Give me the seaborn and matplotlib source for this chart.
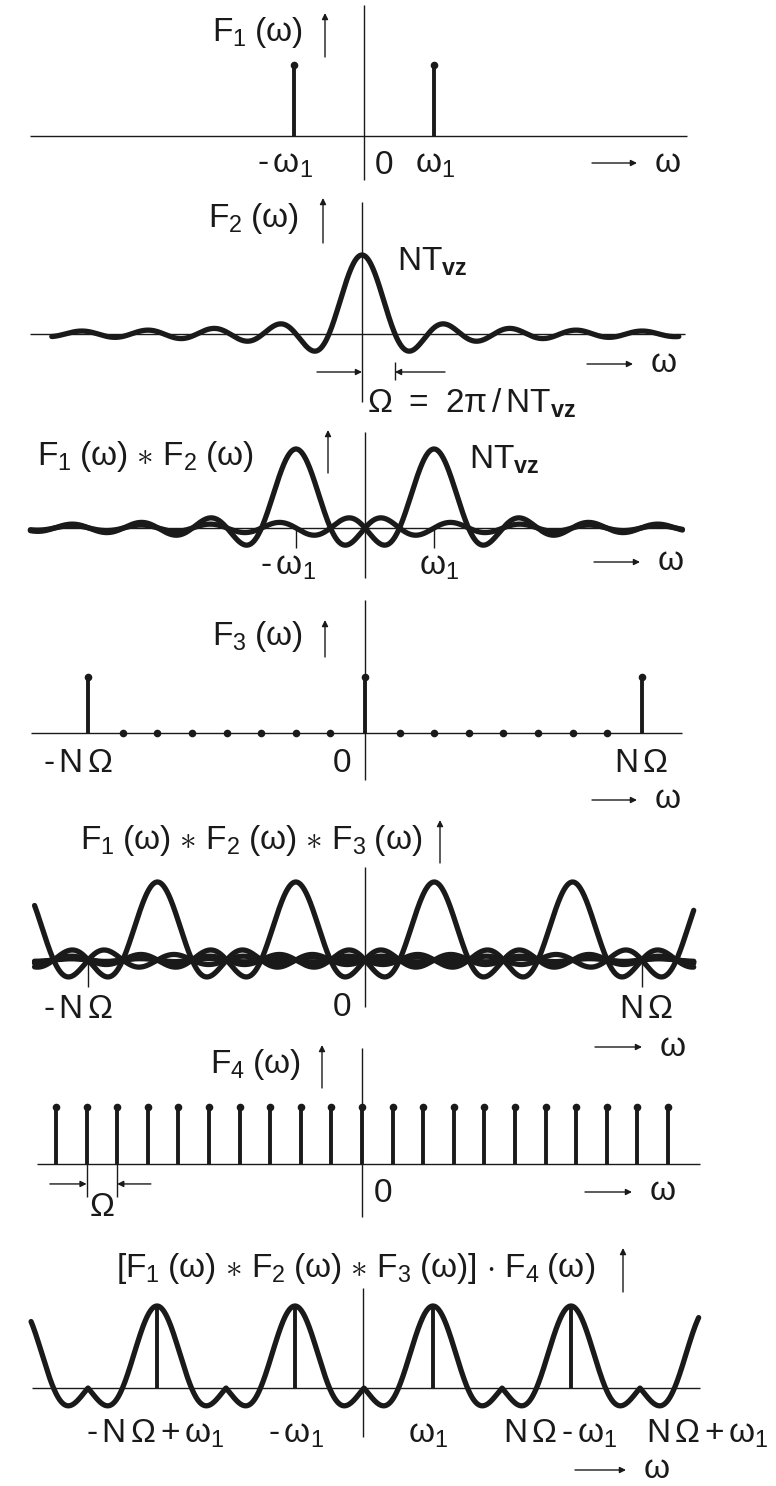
import numpy as np
import pandas as pd
import matplotlib
matplotlib.use("Agg")
import matplotlib.pyplot as plt
import seaborn as sns

sns.set_theme(style="white")
plt.rcParams['font.family'] = ['Liberation Sans', 'DejaVu Sans']
plt.rcParams['mathtext.fontset'] = 'custom'
plt.rcParams['mathtext.rm'] = 'Liberation Sans'
plt.rcParams['mathtext.it'] = 'Liberation Sans'
plt.rcParams['mathtext.bf'] = 'Liberation Sans:bold'
plt.rcParams['mathtext.default'] = 'rm'

# ---------------- data (frequency in units of Omega) ----------------
N = 8                                   # N*Omega = 8 Omega
omega1 = [-2, 2]                        # +/- omega_1 = 2 Omega
f1_pos = [-2, 2]
f1_amp = [1.0, 1.0]
f2_centers = [0]                        # sinc lobe, zeros at multiples of Omega
f12_centers = [-2, 2]                   # F1 * F2
f3_pos = [-8, -7, -6, -5, -4, -3, -2, -1, 0, 1, 2, 3, 4, 5, 6, 7, 8]
f3_amp = [1, 0, 0, 0, 0, 0, 0, 0, 1, 0, 0, 0, 0, 0, 0, 0, 1]
f123_centers = [-10, -6, -2, 2, 6, 10]
f4_pos = [-10, -9, -8, -7, -6, -5, -4, -3, -2, -1, 0, 1, 2, 3, 4, 5, 6, 7, 8, 9, 10]
f4_amp = [1] * 21
final_centers = [-10, -6, -2, 2, 6, 10]
npm_ticks = [-8, 8]                     # -N Omega, N Omega
omega_tick = [-9, -8]                   # Omega spacing marker in F4 panel

S = '$\\;$'
lbl_p1 = ['-$\\,$ω$_1$', '0', 'ω$_1$']
lbl_p3 = ['-$\\,$ω$_1$', 'ω$_1$']
lbl_p4 = ['-$\\,$N$\\,$Ω', '0', 'N$\\,$Ω']
lbl_p7 = ['-$\\,$N$\\,$Ω$\\,$+$\\,$ω$_1$', '-$\\,$ω$_1$', 'ω$_1$',
          'N$\\,$Ω$\\,$-$\\,$ω$_1$', 'N$\\,$Ω$\\,$+$\\,$ω$_1$']


def F(i):
    return 'F$_%d\\;$(ω)' % i


STAR = ' $\\ast$ '
t_f1 = F(1)
t_f2 = F(2)
t_f3 = F(3)
t_f4 = F(4)
t_f12 = F(1) + STAR + F(2)
t_f123 = F(1) + STAR + F(2) + STAR + F(3)
t_final = '[' + F(1) + STAR + F(2) + STAR + F(3) + '] $\\cdot$ ' + F(4)
t_ntvz = 'NT$_{\\mathbf{vz}}$'
t_omega = 'Ω $\\;$=$\\;$ 2π$\\,$/$\\,$NT$_{\\mathbf{vz}}$'

# ---------------- figure ----------------
W, H = 776, 1486
fig = plt.figure(figsize=(W / 100, H / 100), dpi=100)
fig.patch.set_facecolor('white')
ov = fig.add_axes([0, 0, 1, 1])
ov.set_xlim(0, W)
ov.set_ylim(H, 0)
ov.axis('off')

FS = 24
CURVE_LW = 3.8
STEM_LW = 2.8
AX_LW = 1.0


def data_ax(c, s, yb, h):
    ax = fig.add_axes([0, 0, 1, 1])
    ax.set_xlim(-c / s, (W - c) / s)
    ax.set_ylim((yb - H) / h, yb / h)
    ax.axis('off')
    ax.patch.set_alpha(0)
    return ax


def hl(x0, x1, y, lw=AX_LW):
    ov.plot([x0, x1], [y, y], color='k', lw=lw, solid_capstyle='butt')


def vl(x, y0, y1, lw=AX_LW):
    ov.plot([x, x], [y0, y1], color='k', lw=lw, solid_capstyle='butt')


def txt(x, y, s, ha='center', fs=FS):
    ov.text(x, y, s, ha=ha, va='center', fontsize=fs, color='k')


def arrow(x0, y0, x1, y1, ax=None):
    (ax or ov).annotate('', xy=(x1, y1), xytext=(x0, y0),
                        arrowprops=dict(arrowstyle='-|>', lw=1.0, color='k',
                                        mutation_scale=9, shrinkA=0, shrinkB=0))


def omega_arrow(x0, x1, y):
    arrow(x0, y, x1, y)
    txt(x1 + 31, y, 'ω')


def lobes(ax, centers, lo, hi):
    w = np.linspace(lo, hi, 1500)
    df = pd.concat([pd.DataFrame({'w': w, 'v': np.sinc(w - c), 'lobe': i})
                    for i, c in enumerate(centers)])
    sns.lineplot(data=df, x='w', y='v', units='lobe', estimator=None,
                 color='k', lw=CURVE_LW, ax=ax, legend=False)


def stems(ax, pos, amp, lw=STEM_LW, dots=True):
    pos = np.asarray(pos, float)
    amp = np.asarray(amp, float)
    ax.vlines(pos, 0, amp, color='k', lw=lw)
    if dots:
        sns.scatterplot(x=pos, y=amp, color='k', s=30, linewidth=0, ax=ax,
                        zorder=5, legend=False)


# ---------- panel 1 : F1 ----------
a1 = data_ax(364, 35, 136, 71)
stems(a1, f1_pos, f1_amp)
vl(364, 5, 180)
hl(30, 687, 136)
txt(212, 33, t_f1, ha='left')
arrow(325, 57, 325, 13)
for x, s in zip([285, 384, 435], lbl_p1):
    txt(x, 165, s)
omega_arrow(592, 637, 163)

# ---------- panel 2 : F2 ----------
a2 = data_ax(362, 33, 334, 79)
lobes(a2, f2_centers, -9.4, 9.6)
vl(362, 202, 402)
hl(30, 685, 334)
txt(208, 218, t_f2, ha='left')
arrow(323, 243, 323, 198)
txt(397, 262, t_ntvz, ha='left')
omega_arrow(587, 633, 364)
arrow(317, 372, 362, 372)
arrow(445, 372, 395, 372)
vl(395, 362, 380)
txt(367, 403, t_omega, ha='left')

# ---------- panel 3 : F1 * F2 ----------
a3 = data_ax(365, 34.5, 528, 79)
lobes(a3, f12_centers, -9.7, 9.2)
a3.vlines(omega1, -0.25, 0, color='k', lw=AX_LW)
vl(365, 432, 578)
hl(30, 683, 528)
txt(37, 457, t_f12, ha='left')
arrow(328, 473, 328, 430)
txt(469, 460, t_ntvz, ha='left')
for x, s in zip([288, 439], lbl_p3):
    txt(x, 566, s)
omega_arrow(594, 640, 562)

# ---------- panel 4 : F3 ----------
a4 = data_ax(365, 34.6, 733, 56)
f3p = np.array(f3_pos)
f3a = np.array(f3_amp)
stems(a4, f3p[f3a > 0], f3a[f3a > 0])
sns.scatterplot(x=f3p[f3a == 0], y=f3a[f3a == 0], color='k', s=30,
                linewidth=0, ax=a4, zorder=5, legend=False)
vl(365, 600, 780)
hl(31, 682, 733)
txt(212, 636, t_f3, ha='left')
arrow(325, 657, 325, 620)
for x, s in zip([78, 342, 641], lbl_p4):
    txt(x, 764, s)
omega_arrow(592, 637, 800)

# ---------- panel 5 : F1 * F2 * F3 ----------
a5 = data_ax(365, 34.6, 960, 78)
lobes(a5, f123_centers, -9.55, 9.5)
a5.vlines(npm_ticks, -0.35, 0, color='k', lw=AX_LW)
vl(365, 867, 1007)
hl(35, 694, 960)
txt(80, 841, t_f123, ha='left')
arrow(440, 863, 440, 820)
for x, y, s in zip([78, 342, 646], [1010, 1007, 1010], lbl_p4):
    txt(x, y, s)
omega_arrow(595, 642, 1047)

# ---------- panel 6 : F4 ----------
a6 = data_ax(362, 30.6, 1164, 57)
stems(a6, f4_pos, f4_amp)
a6.vlines(omega_tick, -0.58, 0, color='k', lw=AX_LW)
arrow(-10.2, -0.35, omega_tick[0], -0.35, ax=a6)
arrow(-6.9, -0.35, omega_tick[1], -0.35, ax=a6)
vl(362, 1048, 1217)
hl(37, 700, 1164)
txt(210, 1064, t_f4, ha='left')
arrow(322, 1088, 322, 1045)
txt(102, 1207, 'Ω')
txt(383, 1193, '0')
omega_arrow(585, 632, 1192)

# ---------- panel 7 : [F1*F2*F3] . F4 ----------
a7 = data_ax(364, 34.5, 1388, 82)
lo7, hi7 = -9.65, 9.7
w7 = np.linspace(lo7, hi7, 3000)
cen = np.array(final_centers, float)
near = cen[np.argmin(np.abs(w7[:, None] - cen[None, :]), axis=1)]
sns.lineplot(x=w7, y=np.sinc(w7 - near), color='k', lw=CURVE_LW, ax=a7,
             estimator=None, sort=False)
samp = np.array(f4_pos, float)
samp = samp[(samp >= lo7) & (samp <= hi7)]
near_s = cen[np.argmin(np.abs(samp[:, None] - cen[None, :]), axis=1)]
samp_v = np.sinc(samp - near_s)
a7.vlines(samp[samp_v > 0.5], 0, samp_v[samp_v > 0.5], color='k', lw=STEM_LW)
vl(363, 1288, 1437)
hl(32, 700, 1388)
txt(116, 1269, t_final, ha='left')
arrow(623, 1292, 623, 1248)
for x, s in zip([155, 296, 428, 560, 707], lbl_p7):
    txt(x, 1434, s)
omega_arrow(575, 626, 1470)

fig.savefig('out.png', dpi=100, facecolor='white')
